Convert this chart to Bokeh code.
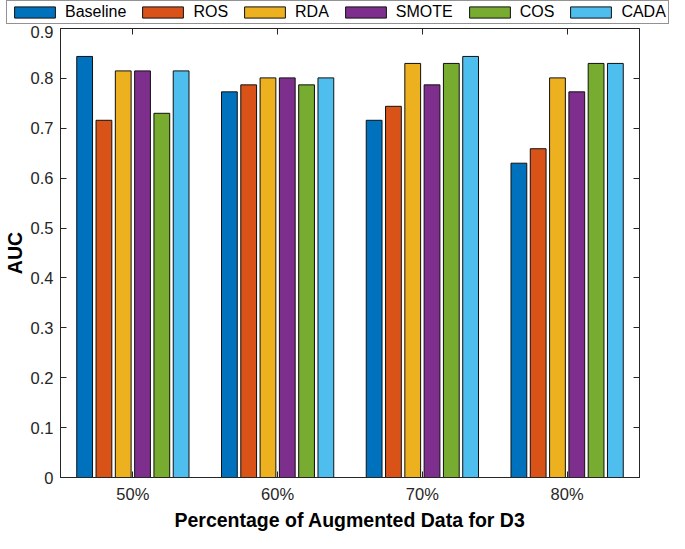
from bokeh.plotting import figure
from bokeh.layouts import column
from bokeh.models import (Range1d, LinearAxis, FixedTicker,
                          ColumnDataSource, CustomJSTickFormatter)
from bokeh.transform import dodge
from bokeh.embed import file_html
from bokeh.resources import INLINE

categories = ["50%", "60%", "70%", "80%"]
series_names = ["Baseline", "ROS", "RDA", "SMOTE", "COS", "CADA"]
baseline = [0.844, 0.773, 0.716, 0.630]
ros = [0.716, 0.787, 0.744, 0.659]
rda = [0.815, 0.801, 0.830, 0.801]
smote = [0.815, 0.801, 0.787, 0.773]
cos = [0.730, 0.787, 0.830, 0.830]
cada = [0.815, 0.801, 0.844, 0.830]
y_ticks = [0, 0.1, 0.2, 0.3, 0.4, 0.5, 0.6, 0.7, 0.8, 0.9]

series_values = [baseline, ros, rda, smote, cos, cada]
colors = ["#0072BD", "#D95319", "#EDB120", "#7E2F8E", "#77AC30", "#4DBEEE"]
positions = list(range(1, len(categories) + 1))

AX = "#262626"
FONT = "Liberation Sans"

W = 669
LH = 25          # legend strip height
H = 533 - LH     # main figure height
BL, BR, BT, BB = 55, 30, 3, 55

sources = [ColumnDataSource(dict(xi=positions, cat=categories, val=vals))
           for vals in series_values]
pitch = 0.1333
bw = 0.109

# ---- legend strip (its own frame spans the full width; bars kept out of view) ----
pl = figure(width=W, height=LH, output_backend="svg", toolbar_location=None,
            x_axis_type=None, y_axis_type=None,
            x_range=Range1d(0.5, len(categories) + 0.5), y_range=Range1d(5, 6),
            min_border_left=0, min_border_right=0, min_border_top=0,
            min_border_bottom=0)
pl.frame_align = False
pl.grid.visible = False
pl.outline_line_color = None
for i, (name, src, col) in enumerate(zip(series_names, sources, colors)):
    pl.vbar(x=dodge("xi", (i - 2.5) * pitch), top="val", width=bw, source=src,
            fill_color=col, line_color="#111111", line_width=1, legend_label=name)
lg = pl.legend[0]
lg.orientation = "horizontal"
lg.location = (6, 1)
lg.glyph_width = 51
lg.glyph_height = 14
lg.label_standoff = 5
lg.spacing = 11
lg.padding = 2
lg.margin = 0
lg.label_text_font = FONT
lg.label_text_font_size = "16px"
lg.label_text_color = "black"
lg.border_line_color = AX
lg.border_line_width = 1
lg.background_fill_alpha = 1

# ---- main chart ----
p = figure(width=W, height=H, output_backend="svg", toolbar_location=None,
           x_range=Range1d(0.5, len(categories) + 0.5),
           y_range=Range1d(0, 0.9),
           min_border_left=BL, min_border_right=BR, min_border_top=BT,
           min_border_bottom=BB)
p.frame_align = False
p.grid.visible = False
p.outline_line_color = AX
p.outline_line_width = 1
p.background_fill_color = "white"
p.border_fill_color = "white"

for i, (src, col) in enumerate(zip(sources, colors)):
    p.vbar(x=dodge("xi", (i - 2.5) * pitch), top="val", width=bw, source=src,
           fill_color=col, line_color="#111111", line_width=1)

def style_axis(ax):
    ax.axis_line_color = AX
    ax.major_tick_line_color = AX
    ax.major_tick_in = 6
    ax.major_tick_out = 0
    ax.minor_tick_line_color = None
    ax.major_label_text_font = FONT
    ax.major_label_text_color = AX
    ax.major_label_text_font_size = "16.5px"

xa = p.xaxis[0]
style_axis(xa)
xa.ticker = FixedTicker(ticks=positions)
xa.major_label_overrides = {k: c for k, c in zip(positions, categories)}
xa.major_label_standoff = 7
xa.axis_label = "Percentage of Augmented Data for D3"
xa.axis_label_text_font = FONT
xa.axis_label_text_font_style = "bold"
xa.axis_label_text_font_size = "19.5px"
xa.axis_label_text_color = "black"
xa.axis_label_standoff = 3

ya = p.yaxis[0]
style_axis(ya)
ya.ticker = FixedTicker(ticks=y_ticks)
ya.major_label_overrides = {0: "0"}
ya.major_label_standoff = 7
ya.axis_label = "AUC"
ya.axis_label_text_font = FONT
ya.axis_label_text_font_style = "bold"
ya.axis_label_text_font_size = "19.5px"
ya.axis_label_text_color = "black"
ya.axis_label_standoff = 2

# mirrored box axes (ticks only)
ra = LinearAxis(ticker=FixedTicker(ticks=y_ticks),
                formatter=CustomJSTickFormatter(code="return ''"))
style_axis(ra)
ra.major_label_standoff = 0
p.add_layout(ra, "right")
ta = LinearAxis(ticker=FixedTicker(ticks=positions),
                formatter=CustomJSTickFormatter(code="return ''"))
style_axis(ta)
ta.major_label_standoff = 0
p.add_layout(ta, "above")

layout = column(pl, p, spacing=0)
open("out.html", "w").write(file_html(layout, INLINE))
